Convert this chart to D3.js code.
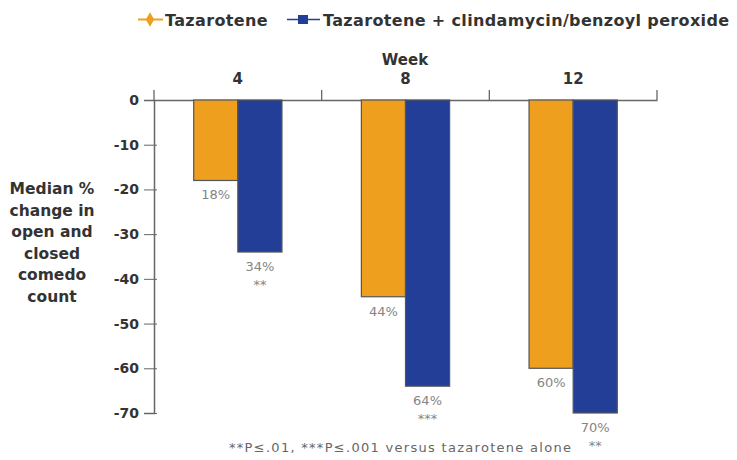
<!DOCTYPE html>
<html><head><meta charset="utf-8">
<script src="https://cdn.jsdelivr.net/npm/d3@7"></script>
<style>body{margin:0;background:#fff}text{font-family:"DejaVu Sans",sans-serif}</style>
</head><body><svg id="c" width="737" height="460"></svg>
<script>
const weeks = ["4", "8", "12"];
const seriesNames = ["Tazarotene", "Tazarotene + clindamycin/benzoyl peroxide"];
const tazarotene = [-18, -44, -60];
const combo = [-34, -64, -70];
const comboSig = ["**", "***", "**"];
const yTicks = [0, -10, -20, -30, -40, -50, -60, -70];
const colors = ["#EE9F1E", "#233E96"];

const svg = d3.select("#c");
const pL = 154, pR = 657, pT = 100, pB = 413;
const x = d3.scaleBand().domain(weeks).range([pL, pR]).padding(0);
const xs = d3.scaleBand().domain([0, 1]).range([0, x.bandwidth()]).paddingInner(0).paddingOuter(0.9);
const y = d3.scaleLinear().domain([0, -70]).range([pT, pB]);

// y axis
const ya = svg.append("g").attr("transform", `translate(${pL},0)`)
  .call(d3.axisLeft(y).tickValues(yTicks).tickSize(10).tickPadding(5).tickFormat(d => String(d)));
ya.select(".domain").attr("stroke", "#666").attr("stroke-width", 1.5);
ya.selectAll(".tick line").attr("stroke", "#666").attr("x2", -10).attr("x1", 3);
ya.selectAll(".tick text").attr("font-size", 14).attr("font-weight", "bold").attr("fill", "#333");

// top axis
const xa = svg.append("g").attr("transform", `translate(0,${pT})`)
  .call(d3.axisTop(x).tickValues([]).tickSizeOuter(0));
xa.select(".domain").attr("stroke", "#666").attr("stroke-width", 1.5);
const bounds = [pL, ...weeks.map(w => x(w) + x.bandwidth())];
svg.append("g").selectAll("line").data(bounds).join("line")
  .attr("x1", d => d).attr("x2", d => d).attr("y1", pT - 10).attr("y2", pT)
  .attr("stroke", "#666").attr("stroke-width", 1.3);
svg.append("g").selectAll("text").data(weeks).join("text")
  .attr("x", d => x(d) + x.bandwidth() / 2).attr("y", 84)
  .attr("text-anchor", "middle").attr("font-size", 15).attr("font-weight", "bold").attr("fill", "#333")
  .text(d => d);
svg.append("text").attr("x", 405).attr("y", 65).attr("text-anchor", "middle")
  .attr("font-size", 15).attr("font-weight", "bold").attr("fill", "#333").text("Week");

// bars
const data = [];
weeks.forEach((w, i) => {
  data.push({w, s: 0, v: tazarotene[i], sig: ""});
  data.push({w, s: 1, v: combo[i], sig: comboSig[i]});
});
const bg = svg.append("g");
bg.selectAll("rect").data(data).join("rect")
  .attr("x", d => x(d.w) + xs(d.s)).attr("width", xs.bandwidth())
  .attr("y", y(0)).attr("height", d => y(d.v) - y(0))
  .attr("fill", d => colors[d.s]).attr("stroke", "#555").attr("stroke-width", 1.2);
bg.selectAll("text.pct").data(data).join("text").attr("class", "pct")
  .attr("x", d => x(d.w) + xs(d.s) + xs.bandwidth() / 2).attr("y", d => y(d.v) + 19)
  .attr("text-anchor", "middle").attr("font-size", 13).attr("fill", "#858585")
  .text(d => Math.abs(d.v) + "%");
bg.selectAll("text.sig").data(data.filter(d => d.sig)).join("text").attr("class", "sig")
  .attr("x", d => x(d.w) + xs(d.s) + xs.bandwidth() / 2).attr("y", d => y(d.v) + 37)
  .attr("text-anchor", "middle").attr("font-size", 13).attr("fill", "#858585")
  .text(d => d.sig);

// y title
const ttl = ["Median %", "change in", "open and", "closed", "comedo", "count"];
svg.append("g").selectAll("text").data(ttl).join("text")
  .attr("x", 52).attr("y", (d, i) => 194 + i * 21.5).attr("text-anchor", "middle")
  .attr("font-size", 15.5).attr("font-weight", "bold").attr("fill", "#333").text(d => d);

// legend
const lg = svg.append("g");
lg.append("line").attr("x1", 138).attr("x2", 163).attr("y1", 19.5).attr("y2", 19.5)
  .attr("stroke", colors[0]).attr("stroke-width", 2);
lg.append("path").attr("d", d3.symbol(d3.symbolDiamond, 60)()).attr("transform", "translate(150,19.5)").attr("fill", colors[0]);
lg.append("line").attr("x1", 287).attr("x2", 320).attr("y1", 19.5).attr("y2", 19.5)
  .attr("stroke", colors[1]).attr("stroke-width", 1.5);
lg.append("rect").attr("x", 298).attr("y", 15).attr("width", 10).attr("height", 9).attr("fill", colors[1]);
const lx = [165, 323];
lg.selectAll("text").data(seriesNames).join("text")
  .attr("x", (d, i) => lx[i]).attr("y", 25.5).attr("letter-spacing", 0.35)
  .attr("font-size", 16).attr("font-weight", "bold").attr("fill", "#333").text(d => d);

// footnote
svg.append("text").attr("x", 400).attr("y", 452).attr("text-anchor", "middle")
  .attr("font-size", 13).attr("fill", "#666").attr("textLength", 342).attr("lengthAdjust", "spacing")
  .text("**P\u2264.01, ***P\u2264.001 versus tazarotene alone");
</script></body></html>
